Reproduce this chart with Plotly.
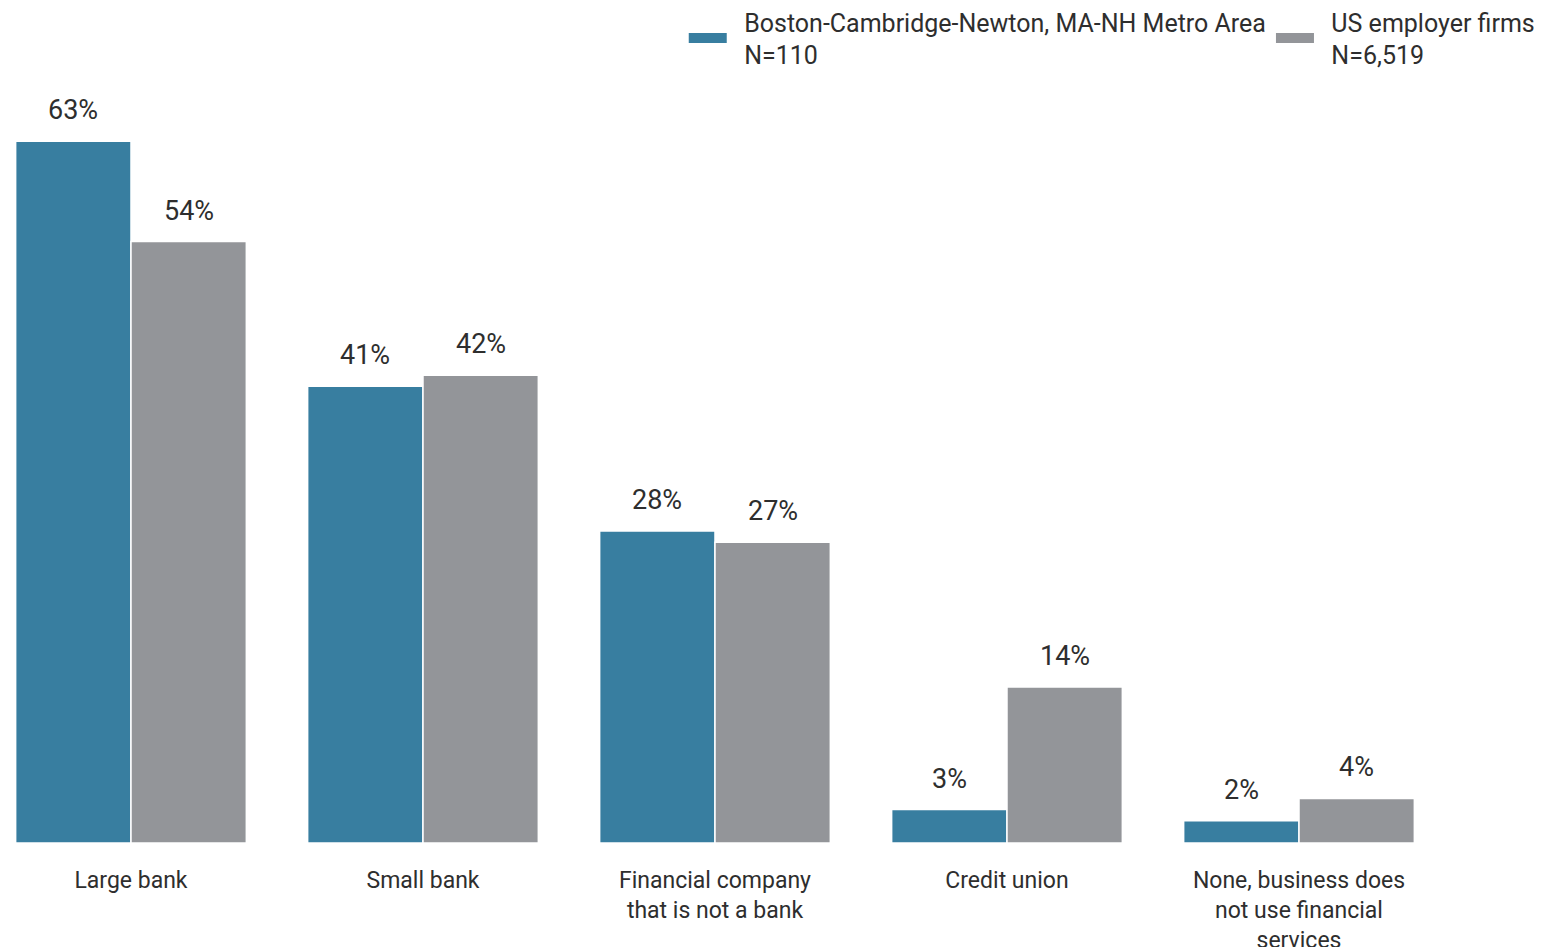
import plotly.graph_objects as go

categories = ["Large bank", "Small bank", "Financial company<br>that is not a bank",
              "Credit union", "None, business does<br>not use financial<br>services"]
boston = [63, 41, 28, 3, 2]
us_firms = [54, 42, 27, 14, 4]
series_names = ["Boston-Cambridge-Newton, MA-NH Metro Area<br>N=110", "US employer firms<br>N=6,519"]
colors = ["#387EA0", "#939599"]

FONT = "Roboto"
TXT = "#2e2e2e"
bargap = 0.21
PAD = "&nbsp;&nbsp;"

fig = go.Figure()
x_idx = list(range(len(categories)))
for vals, name, col in zip([boston, us_firms], series_names, colors):
    fig.add_trace(go.Bar(x=x_idx, y=vals, name=name,
                         marker=dict(color=col, line=dict(color="white", width=1.5)),
                         showlegend=False, hoverinfo="skip"))
    legend_name = "<br>".join(PAD + part for part in name.split("<br>"))
    fig.add_trace(go.Scatter(x=[None], y=[None], mode="lines", name=legend_name,
                             line=dict(color=col, width=12)))

bw = (1 - bargap) / 2
annotations = []
for k, vals in enumerate([boston, us_firms]):
    off = -bw / 2 if k == 0 else bw / 2
    for i, v in enumerate(vals):
        annotations.append(dict(x=i + off, y=v, xref="x", yref="y", text=f"{v}%", showarrow=False,
                                yanchor="middle", yshift=31, font=dict(family=FONT, size=27, color=TXT)))

fig.update_layout(
    width=1542, height=939,
    barmode="group", bargap=bargap, bargroupgap=0,
    plot_bgcolor="white", paper_bgcolor="white",
    margin=dict(l=0, r=0, t=72, b=104, autoexpand=False),
    font=dict(family=FONT, size=23, color=TXT),
    annotations=annotations,
    legend=dict(orientation="h", x=0.994, xanchor="right", y=1.106, yanchor="top",
                font=dict(family=FONT, size=25, color=TXT), itemwidth=38, traceorder="normal"),
    xaxis=dict(range=[-0.4212, 4.8596], tickmode="array", tickvals=x_idx, ticktext=categories,
               showgrid=False, zeroline=False, showline=False, ticks="", ticklabelstandoff=21,
               tickfont=dict(family=FONT, size=23, color=TXT)),
    yaxis=dict(range=[0, 68.5], visible=False, showgrid=False, zeroline=False),
)

fig.write_html("out.html")
